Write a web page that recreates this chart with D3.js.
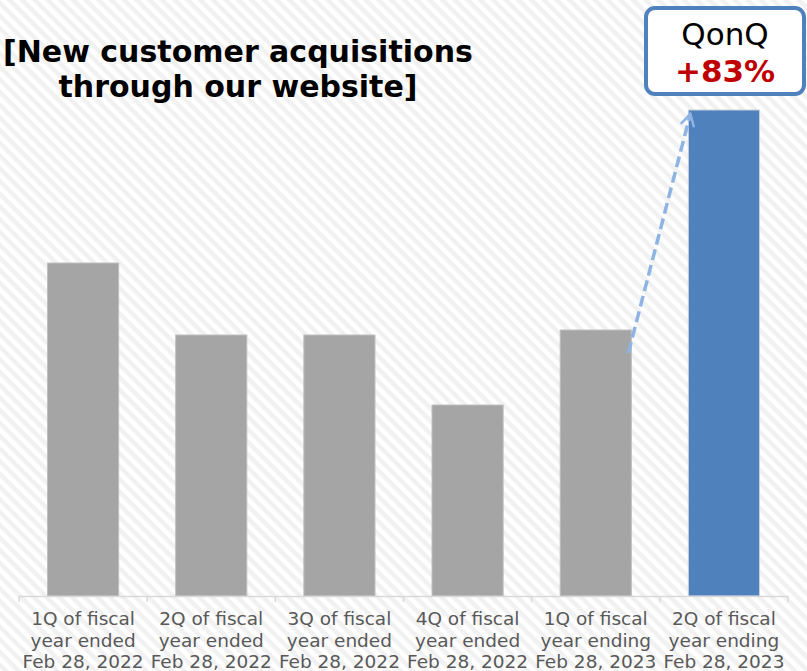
<!DOCTYPE html>
<html>
<head>
<meta charset="utf-8">
<script src="https://cdn.jsdelivr.net/npm/d3@7"></script>
<style>
  body { margin: 0; background: #fff; }
  svg { display: block; }
</style>
</head>
<body>
<svg id="chart" width="807" height="671"></svg>
<script>
// quarters shown on the x axis, three lines each
const quarters = ['1Q FY2022', '2Q FY2022', '3Q FY2022', '4Q FY2022', '1Q FY2023', '2Q FY2023'];
const labelLines = [
  ['1Q of fiscal', 'year ended', 'Feb 28, 2022'],
  ['2Q of fiscal', 'year ended', 'Feb 28, 2022'],
  ['3Q of fiscal', 'year ended', 'Feb 28, 2022'],
  ['4Q of fiscal', 'year ended', 'Feb 28, 2022'],
  ['1Q of fiscal', 'year ending', 'Feb 28, 2023'],
  ['2Q of fiscal', 'year ending', 'Feb 28, 2023']
];
// new customer acquisitions (relative index)
const acquisitions = [333, 261, 261, 191, 266, 486];
const titleLines = ['[New customer acquisitions', 'through our website]'];
const badge = ['QonQ', '+83%'];

const svg = d3.select('#chart');
const width = +svg.attr('width');
const height = +svg.attr('height');

// striped background
const defs = svg.append('defs');
const pat = defs.append('pattern')
  .attr('id', 'stripes')
  .attr('patternUnits', 'userSpaceOnUse')
  .attr('width', 9)
  .attr('height', 9)
  .attr('patternTransform', 'rotate(45)');
pat.append('rect').attr('width', 9).attr('height', 9).attr('fill', '#ffffff');
pat.append('rect').attr('width', 9).attr('height', 4.5).attr('fill', '#f1f1f1');

svg.append('rect')
  .attr('width', width)
  .attr('height', height)
  .attr('fill', 'url(#stripes)');

// scales
const x = d3.scaleBand()
  .domain(quarters)
  .range([19, 788])
  .paddingInner(0.445)
  .paddingOuter(0.2225);

const y = d3.scaleLinear()
  .domain([0, 500])
  .range([596, 96]);

// bars
svg.append('g')
  .selectAll('rect')
  .data(acquisitions)
  .enter()
  .append('rect')
  .attr('x', (d, i) => x(quarters[i]))
  .attr('y', d => y(d))
  .attr('width', x.bandwidth())
  .attr('height', d => y(0) - y(d))
  .attr('fill', (d, i) => i === acquisitions.length - 1 ? '#4f81bd' : '#a5a5a5')
  .attr('stroke', (d, i) => i === acquisitions.length - 1 ? '#c8d2dc' : '#bfbfbf')
  .attr('stroke-width', 1);

// x axis with ticks between categories
const axis = svg.append('g');
axis.append('line')
  .attr('x1', 19).attr('x2', 788)
  .attr('y1', y(0) + 0.5).attr('y2', y(0) + 0.5)
  .attr('stroke', '#d9d9d9')
  .attr('stroke-width', 1.5);

const step = x.step();
const tickXs = d3.range(quarters.length + 1).map(i => 19 + i * step);
axis.selectAll('.tick')
  .data(tickXs)
  .enter()
  .append('line')
  .attr('x1', d => d).attr('x2', d => d)
  .attr('y1', y(0)).attr('y2', y(0) + 6)
  .attr('stroke', '#d9d9d9')
  .attr('stroke-width', 1.5);

const labels = axis.selectAll('.label')
  .data(labelLines)
  .enter()
  .append('text')
  .attr('text-anchor', 'middle')
  .attr('fill', '#595959')
  .style('font', '18.5px "DejaVu Sans", sans-serif');

labels.selectAll('tspan')
  .data((d, i) => d.map(t => ({ t, i })))
  .enter()
  .append('tspan')
  .attr('x', d => x(quarters[d.i]) + x.bandwidth() / 2)
  .attr('y', (d, j) => 625 + j * 21.5)
  .text(d => d.t);

// dashed arrow from the last two bars
const n = acquisitions.length;
const x0 = x(quarters[n - 2]) + x.bandwidth() - 3;
const y0 = y(acquisitions[n - 2]) + 23;
const x1 = x(quarters[n - 1]) + 2;
const y1 = y(acquisitions[n - 1]) + 4;

defs.append('marker')
  .attr('id', 'head')
  .attr('viewBox', '0 0 10 10')
  .attr('refX', 8)
  .attr('refY', 5)
  .attr('markerWidth', 4.5)
  .attr('markerHeight', 4.5)
  .attr('markerUnits', 'strokeWidth')
  .attr('orient', 'auto')
  .append('path')
  .attr('d', 'M1,1 L8,5 L1,9')
  .attr('fill', 'none')
  .attr('stroke', '#8eb4e3')
  .attr('stroke-width', 1.6)
  .attr('stroke-linecap', 'round');

svg.append('line')
  .attr('x1', x0).attr('y1', y0)
  .attr('x2', x1).attr('y2', y1)
  .attr('stroke', '#8eb4e3')
  .attr('stroke-width', 3.5)
  .attr('stroke-dasharray', '11,5')
  .attr('marker-end', 'url(#head)');

// title
svg.append('text')
  .attr('fill', '#000')
  .style('font', 'bold 30px "DejaVu Sans", sans-serif')
  .selectAll('tspan')
  .data(titleLines)
  .enter()
  .append('tspan')
  .attr('x', (d, i) => i === 0 ? 3 : 238)
  .attr('y', (d, i) => 62 + i * 35)
  .attr('text-anchor', (d, i) => i === 0 ? 'start' : 'middle')
  .text(d => d);

// QonQ badge
const bx = 646, by = 8, bw = 158, bh = 86;
svg.append('rect')
  .attr('x', bx).attr('y', by)
  .attr('width', bw).attr('height', bh)
  .attr('rx', 9)
  .attr('fill', '#fff')
  .attr('stroke', '#4f81bd')
  .attr('stroke-width', 4);

svg.append('text')
  .attr('x', bx + bw / 2)
  .attr('y', 45)
  .attr('text-anchor', 'middle')
  .attr('fill', '#000')
  .style('font', '31px "DejaVu Sans", sans-serif')
  .text(badge[0]);

svg.append('text')
  .attr('x', bx + bw / 2)
  .attr('y', 82)
  .attr('text-anchor', 'middle')
  .attr('fill', '#c00000')
  .style('font', 'bold 31px "DejaVu Sans", sans-serif')
  .text(badge[1]);
</script>
</body>
</html>
